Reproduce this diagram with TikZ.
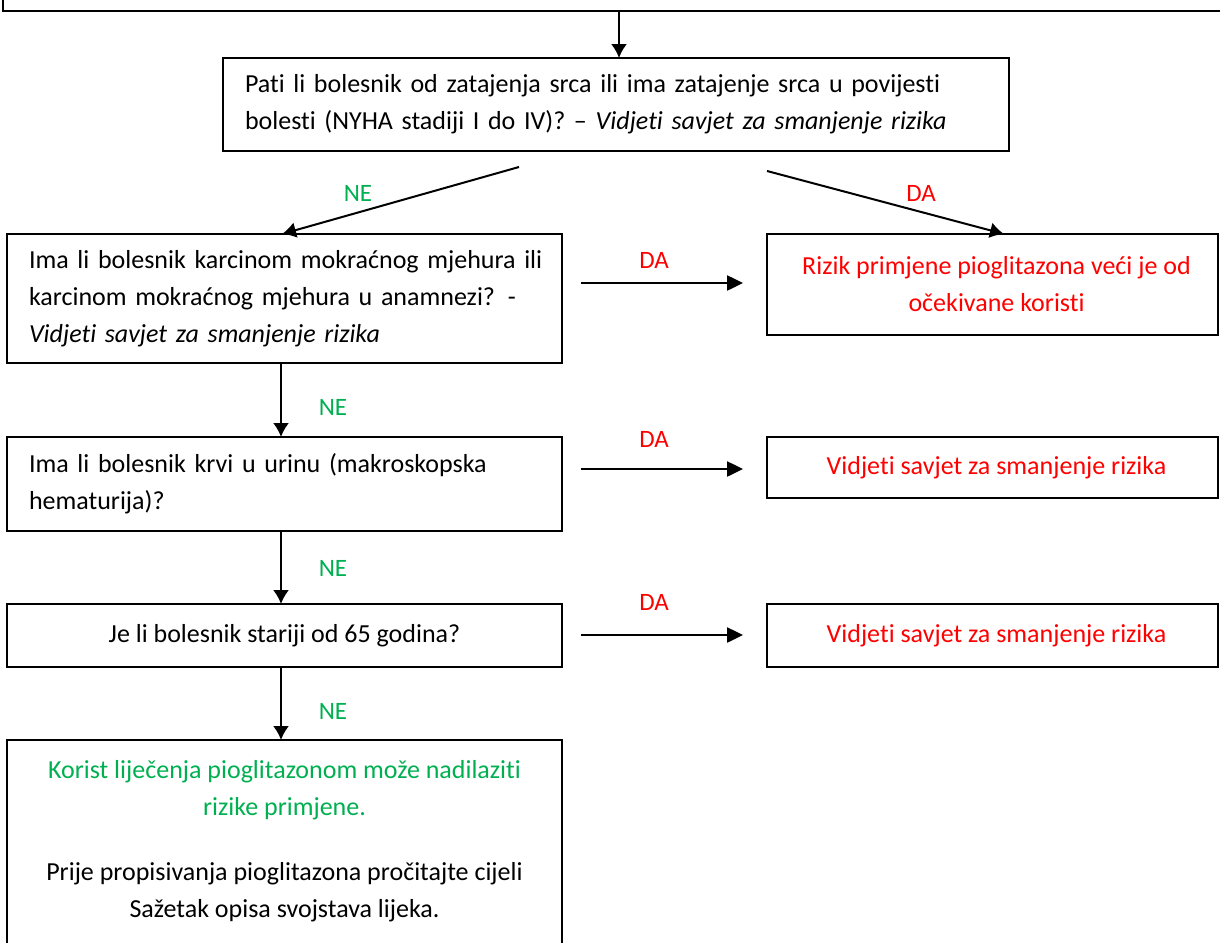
\documentclass[tikz,border=0pt]{standalone}
\usepackage{fontspec}
\setmainfont{Carlito}[Ligatures=NoCommon]
\usetikzlibrary{arrows.meta,calc}
\definecolor{ggreen}{HTML}{00B050}
\definecolor{rred}{HTML}{FF0000}
\newcommand{\lyn}[1]{\mbox{#1}}
\newcommand{\rsh}{\hspace*{4pt}}
\begin{document}
\begin{tikzpicture}[x=0.5pt,y=-0.5pt,
  box/.style={draw, line width=1pt, rectangle, inner ysep=0pt, inner xsep=11pt, outer sep=0pt,
    anchor=north west, font=\fontsize{13}{18.5}\selectfont},
  bsize/.style 2 args={minimum width=#1*0.5pt, minimum height=#2*0.5pt},
  lefttext/.style={text width=#1*0.5pt-22pt, align=left},
  ctext/.style={align=center},
  lbl/.style={font=\fontsize{12.5}{14}\selectfont, inner sep=0pt},
  ne/.style={lbl, text=ggreen},
  da/.style={lbl, text=rred},
  varrow/.style={line width=1pt, -{Latex[length=7pt,width=8pt]}},
  harrow/.style={line width=1.25pt, -{Triangle[length=8pt,width=7.5pt]}}
]
\useasboundingbox (0,0) rectangle (1220,942);
\clip (0,0) rectangle (1220,942);

% top (cut) box
\node[box, bsize={1260}{71}] (top) at (3,-60) {};

% question box
\node[box, bsize={786}{93}, lefttext=786] (q) at (223,58)
  {\lyn{Pati li bolesnik od zatajenja srca ili ima zatajenje srca u povijesti}\\
   \lyn{bolesti (NYHA stadiji I do IV)? – \textit{Vidjeti savjet za smanjenje rizika}}};

% left column
\node[box, bsize={555}{129}, lefttext=555] (b1) at (7,234)
  {\lyn{Ima li bolesnik karcinom mokraćnog mjehura ili}\\
   \lyn{karcinom mokraćnog mjehura u anamnezi? -}\\
   \lyn{\textit{Vidjeti savjet za smanjenje rizika}}};
\node[box, bsize={555}{94}, lefttext=555] (b2) at (7,437)
  {\lyn{Ima li bolesnik krvi u urinu (makroskopska}\\
   \lyn{hematurija)?}};
\node[box, bsize={555}{63}, ctext] (b3) at (7,604)
  {Je li bolesnik stariji od 65 godina?};
\node[box, bsize={555}{230}] (b4) at (7,740) {};
\node[anchor=north, inner sep=0pt, align=center, font=\fontsize{13}{18.5}\selectfont] (b4t)
  at ($(b4.north)+(0,20)$)
  {\textcolor{ggreen}{Korist liječenja pioglitazonom može nadilaziti}\\
   \textcolor{ggreen}{rizike primjene.}\\[14pt]
   Prije propisivanja pioglitazona pročitajte cijeli\\
   Sažetak opisa svojstava lijeka.};

% right column
\node[box, bsize={451}{101}, ctext, text=rred] (r1) at (767,234)
  {\rsh Rizik primjene pioglitazona veći je od\\\rsh očekivane koristi};
\node[box, bsize={451}{61}, ctext, text=rred] (r2) at (767,437)
  {\rsh Vidjeti savjet za smanjenje rizika};
\node[box, bsize={451}{63}, ctext, text=rred] (r3) at (767,604)
  {\rsh Vidjeti savjet za smanjenje rizika};

% connectors
\draw[varrow] ([xshift=1.5pt]top.south -| q.north) -- ([xshift=1.5pt]q.north);

\coordinate (dl) at (519,167);
\coordinate (dr) at (767,171);
\draw[varrow] (dl) -- ([xshift=-1.25pt]b1.north);
\draw[varrow] (dr) -- ([xshift=5.75pt]r1.north);

\draw[varrow] ([xshift=-1.75pt]b1.south) -- ([xshift=-1.75pt]b2.north);
\draw[varrow] ([xshift=-1.75pt]b2.south) -- ([xshift=-1.75pt]b3.north);
\draw[varrow] ([xshift=-1.75pt]b3.south) -- ([xshift=-1.75pt]b4.north);

\draw[harrow] ($(b1.east |- 0,283)+(19,0)$) -- ($(r1.west |- 0,283)+(-24,0)$);
\draw[harrow] ($(b2.east |- 0,469)+(19,0)$) -- ($(r2.west |- 0,469)+(-24,0)$);
\draw[harrow] ($(b3.east |- 0,635)+(19,0)$) -- ($(r3.west |- 0,635)+(-24,0)$);

% labels
\node[ne] (ne0) at (358,193) {NE};
\node[da] (da0) at (921,193) {DA};
\node[da] (da1) at (654,260) {DA};
\node[da] (da2) at (654,439) {DA};
\node[da] (da3) at (654,602) {DA};
\node[ne] (ne1) at (333,407) {NE};
\node[ne] (ne2) at (333,568) {NE};
\node[ne] (ne3) at (333,711) {NE};
\end{tikzpicture}
\end{document}
